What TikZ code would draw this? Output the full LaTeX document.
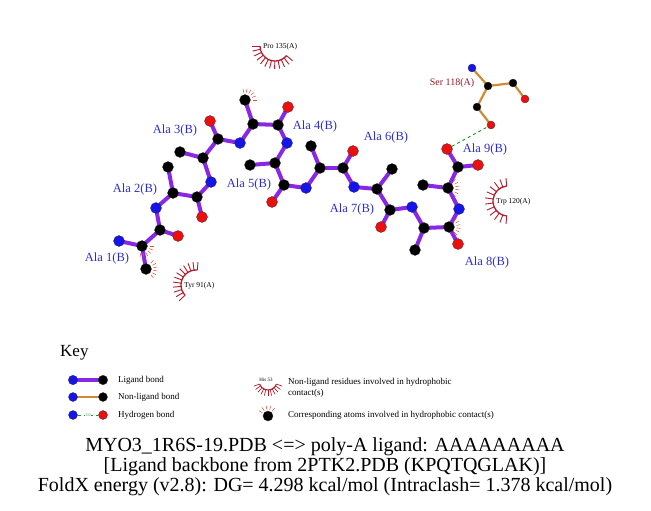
\documentclass[tikz,border=0pt]{standalone}
\usepackage{fontspec}
\setmainfont{Liberation Serif}
\usetikzlibrary{backgrounds}
\definecolor{ligbond}{RGB}{136,40,228}
\definecolor{nonlig}{RGB}{204,140,52}
\definecolor{hbondcol}{RGB}{40,140,40}
\definecolor{atomN}{RGB}{20,20,235}
\definecolor{atomO}{RGB}{235,15,15}
\definecolor{reslabel}{RGB}{45,45,205}
\definecolor{hydarc}{RGB}{175,30,45}
\definecolor{hydspoke}{RGB}{215,80,55}
\tikzset{
  atC/.style={circle,fill=black,draw=black!80,line width=0.3pt,inner sep=0pt,minimum size=11pt},
  atN/.style={atC,fill=atomN},
  atO/.style={atC,fill=atomO},
  smC/.style={atC,minimum size=8pt},
  smN/.style={smC,fill=atomN},
  smO/.style={smC,fill=atomO},
  lig/.style={draw=ligbond,line width=4pt},
  nonl/.style={draw=nonlig,line width=2.2pt},
  hbd/.style={draw=hbondcol,dashed,line width=0.9pt},
  alalabel/.style={text=reslabel,font=\fontsize{12.5}{14}\selectfont},
  hydlabel/.style={text=black,font=\fontsize{7.5}{8}\selectfont,anchor=west,inner sep=0pt},
  keytext/.style={font=\fontsize{9}{10.5}\selectfont,anchor=west,inner sep=0pt,align=left},
  title/.style={font=\fontsize{20}{21}\selectfont,anchor=base}
}
\begin{document}
\begin{tikzpicture}[x=1pt,y=-1pt]
\useasboundingbox (0,0) rectangle (651,511);
% ligand atoms: name/x/y/type
\foreach \n/\x/\y/\t in {N1/119/241/atN,CA1/142/246/atC,CB1/146/269/atC,C1/160/230/atC,O1/178/236/atO,
  N2/156/208/atN,CA2/173/193/atC,CB2/168/167/atC,C2/197/197/atC,O2/202/217/atO,
  N3/211/182/atN,CA3/203/158/atC,CB3/180/152/atC,C3/218/139/atC,O3/210/121/atO,
  N4/240/143/atN,CA4/253/124/atC,CB4/245/100/atC,C4/278/125/atC,O4/288/107/atO,
  N5/287/143/atN,CA5/275/163/atC,CB5/250/165/atC,C5/284/185/atC,O5/272/202/atO,
  N6/306/188/atN,CA6/320/168/atC,CB6/311/146/atC,C6/343/168/atC,O6/353/151/atO,
  N7/354/187/atN,CA7/377/189/atC,CB7/392/169/atC,C7/390/210/atC,O7/381/227/atO,
  N8/412/207/atN,CA8/424/228/atC,CB8/415/250/atC,C8/449/227/atC,O8/458/244/atO,
  N9/459/209/atN,CA9/448/188/atC,CB9/423/185/atC,C9/458/167/atC,O9/447/149/atO,OXT/478/165/atO}
  \node[\t] (\n) at (\x,\y) {};
% Ser 118 atoms
\foreach \n/\x/\y/\t in {sN/472/68/smN,sCA/488/86/smC,sC/513/83/smC,sO/525/99/smO,sCB/477/107/smC,sOG/491/125/smO}
  \node[\t] (\n) at (\x,\y) {};
\begin{scope}[on background layer]
\foreach \a/\b in {N1/CA1,CA1/CB1,CA1/C1,C1/O1,C1/N2,N2/CA2,CA2/CB2,CA2/C2,C2/O2,C2/N3,
  N3/CA3,CA3/CB3,CA3/C3,C3/O3,C3/N4,N4/CA4,CA4/CB4,CA4/C4,C4/O4,C4/N5,
  N5/CA5,CA5/CB5,CA5/C5,C5/O5,C5/N6,N6/CA6,CA6/CB6,CA6/C6,C6/O6,C6/N7,
  N7/CA7,CA7/CB7,CA7/C7,C7/O7,C7/N8,N8/CA8,CA8/CB8,CA8/C8,C8/O8,C8/N9,
  N9/CA9,CA9/CB9,CA9/C9,C9/O9,C9/OXT}
  \draw[lig] (\a.center) -- (\b.center);
\foreach \a/\b in {sN/sCA,sCA/sC,sC/sO,sCA/sCB,sCB/sOG}
  \draw[nonl] (\a.center) -- (\b.center);
\end{scope}
\draw[hbd] (O9) -- (sOG);
% hydrophobic contacts on ligand atoms
\foreach \n/\s/\e in {CA1/0/100,CB1/-50/50,CB4/-100/0,CA9/-50/50,C8/-50/45}{
  \foreach \k in {0,...,5}{
    \pgfmathsetmacro{\ang}{\s+\k*(\e-\s)/5}
    \draw[hydspoke,line width=0.5pt] (\n.center) ++(\ang:7.5) -- ++(\ang:4);
  }
}
% residue labels
\foreach \i/\x/\y in {1/107/258,2/135/189,3/175/130,4/315/126,5/249/184,6/386/137,7/352/209,8/487/262,9/485/149}
  \node[alalabel] (ala\i) at (\x,\y) {Ala \i(B)};
\node[text=hydarc!85!black,font=\fontsize{10}{11}\selectfont] (ser) at (452,83) {Ser 118(A)};
% hydrophobic residues: name/x/y/start/end/label
\foreach \n/\x/\y/\s/\e/\l in {pro/275/46/40/180/Pro 135(A),tyr/196/285/137/275/Tyr 91(A),trp/508/201/95/265/Trp 120(A)}{
  \coordinate (\n) at (\x,\y);
  \draw[hydarc,line width=1.3pt] (\n) ++(\s:15) arc[start angle=\s,end angle=\e,radius=15];
  \foreach \k [evaluate=\k as \a using \s+\k*(\e-\s)/11] in {0,...,11}
    \draw[hydarc,line width=0.9pt] (\n) ++(\a:15) -- ++(\a:8);
  \node[hydlabel] (\n lab) at ([xshift=-12pt,yshift=-1pt]\n) {\l};
}
% key
\node[font=\fontsize{17}{19}\selectfont,anchor=west,inner sep=0pt] (key) at (60,353) {Key};
\node[atN,minimum size=9.5pt] (k1a) at (73,380) {};
\node[atC,minimum size=9.5pt] (k1b) at (103,380) {};
\node[atN,minimum size=9pt] (k2a) at (73,397) {};
\node[atC,minimum size=9pt] (k2b) at (103,397) {};
\node[atN,minimum size=9pt] (k3a) at (73,415) {};
\node[atO,minimum size=9pt] (k3b) at (103,415) {};
\begin{scope}[on background layer]
\draw[lig] (k1a.center) -- (k1b.center);
\draw[nonl] (k2a.center) -- (k2b.center);
\draw[hbd] (k3a) -- (k3b) node[midway,fill=white,inner sep=0.3pt,text=hbondcol,font=\fontsize{4}{4}\selectfont] {3.0};
\end{scope}
\node[keytext] (t1) at (118,380) {Ligand bond};
\node[keytext] (t2) at (118,397) {Non-ligand bond};
\node[keytext] (t3) at (118,415) {Hydrogen bond};
\coordinate (his) at (268,381);
\draw[hydarc,line width=1.1pt] (his) ++(20:9) arc[start angle=20,end angle=160,radius=9];
\foreach \a in {20,34,...,160}
  \draw[hydarc,line width=0.7pt] (his) ++(\a:9) -- ++(\a:6);
\node[font=\fontsize{5}{5}\selectfont,inner sep=0pt] (hislab) at (266,380) {His 53};
\node[atC,minimum size=10pt] (khyd) at (268,416) {};
\foreach \a in {-150,-125,...,-30}
  \draw[hydspoke,line width=0.5pt] (khyd.center) ++(\a:6.5) -- ++(\a:4);
\node[keytext] (t4) at (288,388) {Non-ligand residues involved in hydrophobic\\contact(s)};
\node[keytext] (t5) at (288,415) {Corresponding atoms involved in hydrophobic contact(s)};
% title
\node[title] (l1) at (325,451) {MYO3\_1R6S-19.PDB <=> poly-A ligand: AAAAAAAAA};
\node[title] (l2) at (325,471) {[Ligand backbone from 2PTK2.PDB (KPQTQGLAK)]};
\node[title] (l3) at (325,491) {FoldX energy (v2.8): DG= 4.298 kcal/mol (Intraclash= 1.378 kcal/mol)};
\end{tikzpicture}
\end{document}
